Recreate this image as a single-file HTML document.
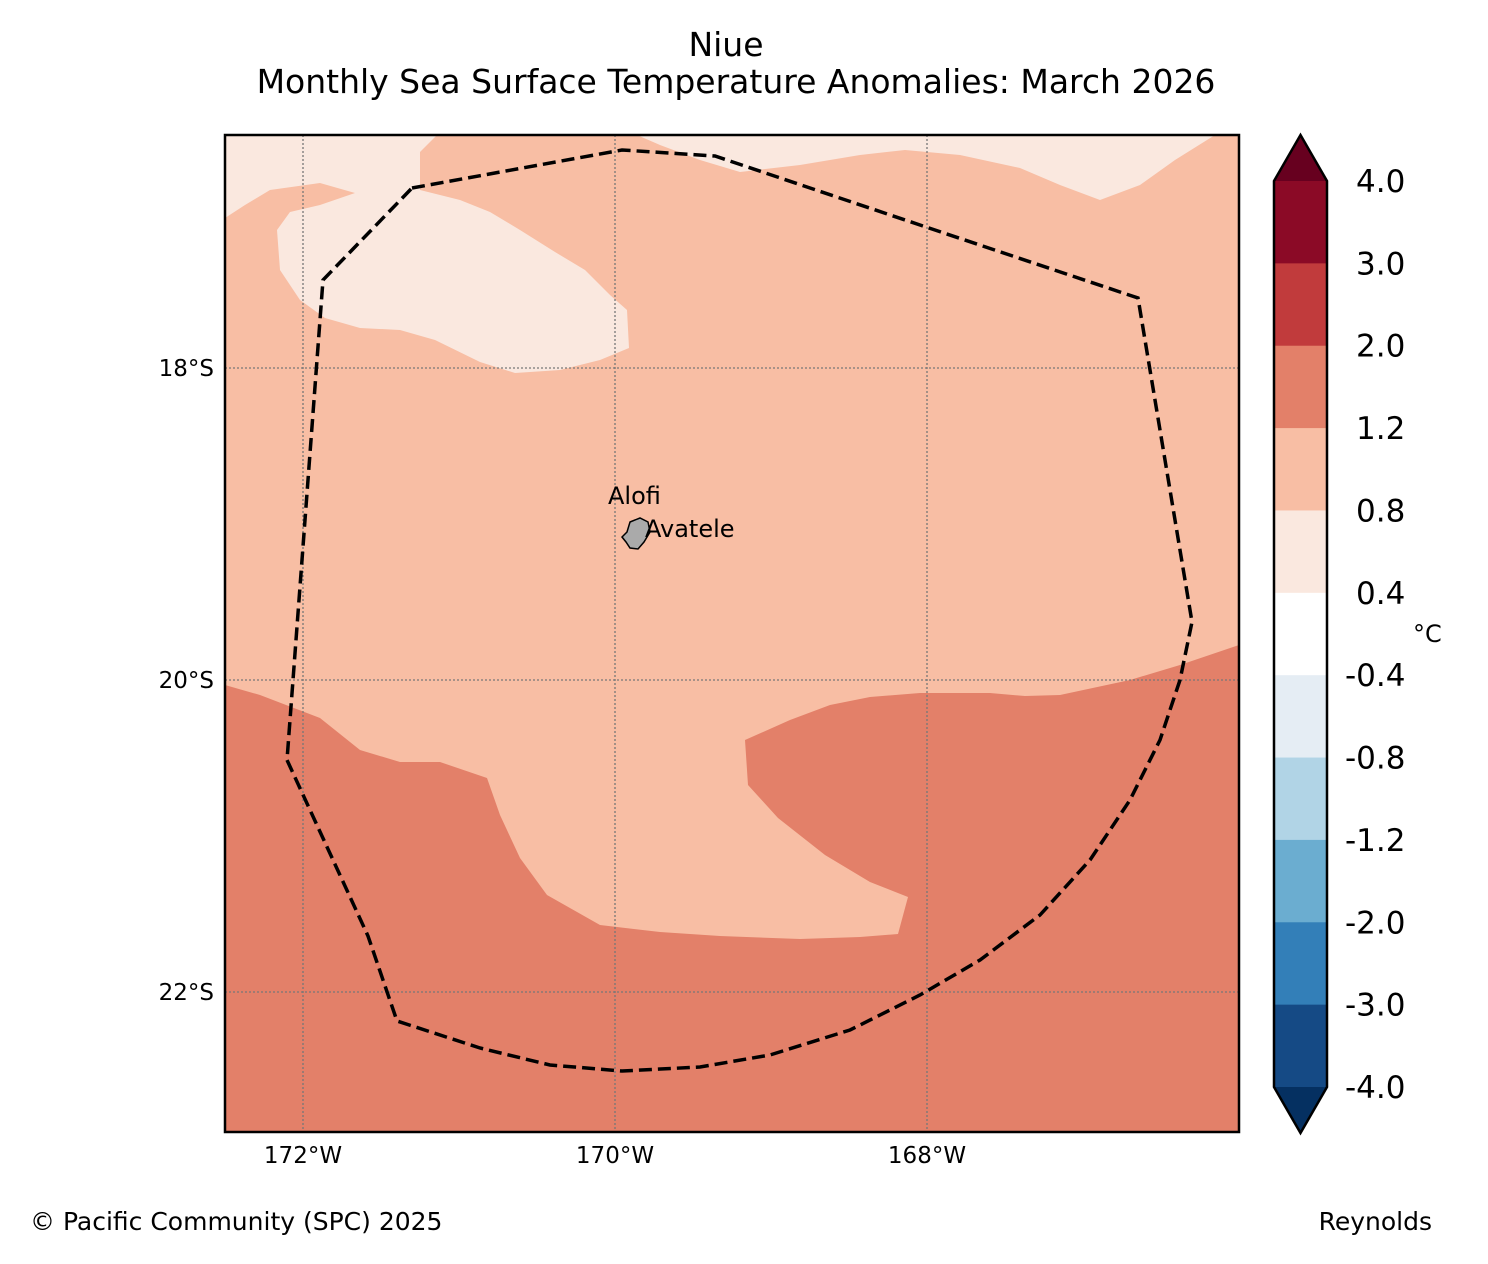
<!DOCTYPE html>
<html><head><meta charset="utf-8"><style>
body{margin:0;background:#fff}
svg{display:block;font-family:"DejaVu Sans","Liberation Sans",sans-serif}
</style></head><body>
<svg width="1488" height="1264" viewBox="0 0 1488 1264">
<text x="726" y="56" font-size="33" text-anchor="middle">Niue</text>
<text x="736" y="93" font-size="33" text-anchor="middle">Monthly Sea Surface Temperature Anomalies: March 2026</text>
<g>
<rect x="225" y="135" width="1014" height="997" fill="#f8bea4"/>
<polygon fill="#fae8df" points="225,135 437,135 420,152 420,190 460,200 490,212 520,230 555,252 585,270 610,295 627,310 629,348 600,360 560,370 515,373 480,362 435,340 400,330 360,328 325,318 300,300 280,270 277,230 290,212 320,205 355,193 320,183 270,190 245,205 225,218"/>
<polygon fill="#fae8df" points="637,135 660,145 700,160 740,172 800,165 860,155 905,150 960,155 1020,168 1060,185 1100,200 1140,185 1175,160 1215,135"/>
<polygon fill="#e38069" points="225,685 260,695 320,718 360,750 400,762 440,762 487,778 500,815 520,858 547,895 600,925 660,932 720,936 800,939 860,937 898,934 908,897 870,882 825,855 778,818 748,785 745,740 790,720 830,705 870,697 920,693 990,693 1025,696 1060,695 1130,680 1180,665 1239,645 1239,1132 225,1132"/>
<g stroke="#777" stroke-width="1.3" stroke-dasharray="2,2">
<line x1="303" y1="135" x2="303" y2="1132"/><line x1="615" y1="135" x2="615" y2="1132"/><line x1="927" y1="135" x2="927" y2="1132"/>
<line x1="225" y1="368" x2="1239" y2="368"/><line x1="225" y1="680" x2="1239" y2="680"/><line x1="225" y1="992" x2="1239" y2="992"/>
</g>
<polyline fill="none" stroke="#000" stroke-width="3.5" stroke-dasharray="13,6" points="412,188 622,150 715,156 920,225 1138,298 1192,622 1180,680 1160,740 1130,800 1090,860 1040,915 980,960 920,995 850,1030 770,1055 700,1067 622,1071 550,1065 480,1048 397,1021 368,936 287,760 323,280 412,188"/>
<path d="M630,522 L640,518 L648,522 L650,532 L644,542 L638,549 L630,548 L626,542 L622,537 L627,532 Z" fill="#aaa" stroke="#000" stroke-width="1.5"/>
<text x="608" y="504" font-size="24">Alofi</text>
<text x="645" y="537" font-size="24">Avatele</text>
<rect x="225" y="135" width="1014" height="997" fill="none" stroke="#000" stroke-width="2.5"/>
</g>
<g font-size="23">
<text x="214" y="376" text-anchor="end">18°S</text>
<text x="214" y="688" text-anchor="end">20°S</text>
<text x="214" y="1000" text-anchor="end">22°S</text>
<text x="303" y="1163" text-anchor="middle">172°W</text>
<text x="615" y="1163" text-anchor="middle">170°W</text>
<text x="927" y="1163" text-anchor="middle">168°W</text>
</g>
<g id="cb"></g>
<text x="30" y="1230" font-size="25">© Pacific Community (SPC) 2025</text>
<text x="1432" y="1230" font-size="25" text-anchor="end">Reynolds</text>
</svg>
<script>
const bandColors=["#8b0a26","#c13b3c","#e38069","#f8bea4","#fae8df","#ffffff","#e5edf4","#b1d4e6","#6badd0","#337fb8","#154a85"];
const tickLabels=["4.0","3.0","2.0","1.2","0.8","0.4","-0.4","-0.8","-1.2","-2.0","-3.0","-4.0"];
const NS="http://www.w3.org/2000/svg";
const cb=document.getElementById('cb');
const cx0=1274,cw=53,ctop=181,cbot=1087,ch=(cbot-ctop)/bandColors.length;
function mk(t,a){const e=document.createElementNS(NS,t);for(const k in a)e.setAttribute(k,a[k]);cb.appendChild(e);return e;}
const tri=mk('polygon',{points:`${cx0},${ctop} ${cx0+cw/2},135 ${cx0+cw},${ctop}`,fill:'#67001f'});


bandColors.forEach((c,i)=>{const r=mk('rect',{x:cx0,y:ctop+i*ch,width:cw,height:ch+0.5,fill:c});

});
const tri2=mk('polygon',{points:`${cx0},${cbot} ${cx0+cw/2},1133 ${cx0+cw},${cbot}`,fill:'#053061'});


const ol=mk('polygon',{points:`${cx0},${ctop} ${cx0+cw/2},135 ${cx0+cw},${ctop} ${cx0+cw},${cbot} ${cx0+cw/2},1133 ${cx0},${cbot}`,fill:'none',stroke:'#000','stroke-width':2.5});


tickLabels.forEach((t,i)=>{const neg=t.startsWith('-');const e=mk('text',{x:neg?1345:1356,y:ctop+i*ch+11,'font-size':'31'});e.textContent=t;

});
const u=mk('text',{x:1413,y:642,'font-size':'24'});u.textContent='°C';


</script>
</body></html>
